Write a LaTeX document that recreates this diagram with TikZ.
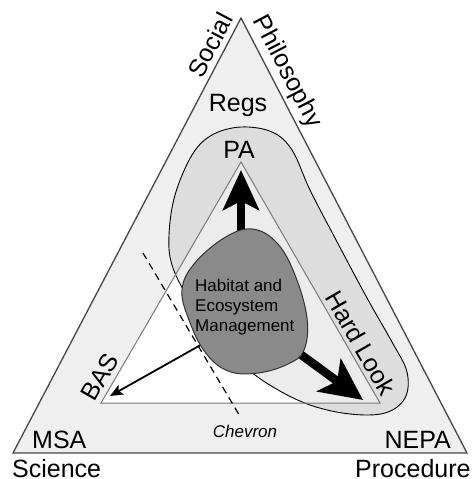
\documentclass[tikz,border=0pt]{standalone}
\usepackage{fontspec}
\setmainfont{Liberation Sans}
\usetikzlibrary{arrows.meta}
\definecolor{outerfill}{HTML}{EFEFEF}
\definecolor{outerline}{HTML}{474747}
\definecolor{innerline}{HTML}{7A7A7A}
\definecolor{darkfill}{HTML}{8A8A8A}
\definecolor{darkline}{HTML}{333333}
\tikzset{
  biglabel/.style={font=\fontsize{25}{30}\selectfont, inner sep=0pt},
  smalllabel/.style={font=\fontsize{17}{20}\selectfont, inner sep=0pt},
  thickarrow/.style={line width=7.5pt, -{Stealth[length=40pt,width=36pt,inset=9pt]}},
  thickerarrow/.style={line width=8.5pt, -{Stealth[length=42pt,width=40pt,inset=10pt]}},
  thinarrow/.style={line width=1.8pt, -{Stealth[length=13pt,width=11pt,inset=3pt]}},
}
\begin{document}
\begin{tikzpicture}[x=1pt,y=-1pt]
\useasboundingbox (0,0) rectangle (473,479);
% outer triangle
\coordinate (O1) at (241,18);
\coordinate (O2) at (13,453);
\coordinate (O3) at (467,453);
\coordinate (I1) at (241,162);
\coordinate (I2) at (101,403);
\coordinate (I3) at (380,403);
\filldraw[fill=outerfill, draw=outerline, line width=1.3pt, line join=miter] (O1) -- (O2) -- (O3) -- cycle;
\fill[white] (I1) -- (I2) -- (I3) -- cycle;
% light blob (PA / Hard Look region)
\filldraw[fill=black, fill opacity=0.075, draw=black, line width=0.9pt]
  plot[smooth cycle, tension=0.6] coordinates {
  (241,127) (272,132) (292,150) (310,190) (335,238) (367,298) (392,342)
  (407,372) (405,398) (385,413) (350,414) (310,405) (273,387) (240,363)
  (212,333) (188,298) (172,265) (169,235) (175,195) (192,155) (212,135)};
\draw[innerline, line width=1pt] (I1) -- (I2) -- (I3) -- cycle;
% dashed Chevron line
\coordinate (D1) at (143,253);
\coordinate (D2) at (241,418);
\draw[black, line width=1.2pt, dash pattern=on 7pt off 5pt] (D1) -- (D2);
% arrows
\coordinate (A1s) at (241,250);
\coordinate (A1e) at (241,170);
\coordinate (A2s) at (285,343);
\coordinate (A2e) at (363,400);
\coordinate (A3s) at (206,342);
\coordinate (A3e) at (110,396);
\draw[thickarrow] (A1s) -- (A1e);
\draw[thickerarrow] (A2s) -- (A2e);
\draw[thinarrow] (A3s) -- (A3e);
% dark blob
\filldraw[fill=darkfill, draw=darkline, line width=1pt]
  plot[smooth cycle, tension=0.65] coordinates {
  (252,229) (277,243) (295,275) (307,318) (304,350) (288,364) (258,373)
  (228,371) (205,352) (189,320) (182,290) (194,264) (224,238)};
% labels
\node[biglabel, rotate=62.3] (social) at (210,45) {Social};
\node[biglabel, rotate=-62.3] (philo) at (287,72) {Philosophy};
\node[biglabel, anchor=base] (regs) at (238,111) {Regs};
\node[biglabel, anchor=base] (pa) at (239,158) {PA};
\node[biglabel, anchor=base west] (msa) at (32,448) {MSA};
\node[biglabel, anchor=base east] (nepa) at (451,448) {NEPA};
\node[biglabel, anchor=base west] (science) at (12,477) {Science};
\node[biglabel, anchor=base west] (proc) at (355,477) {Procedure};
\node[biglabel, rotate=60] (bas) at (100,377) {BAS};
\node[biglabel, rotate=-60] (hard) at (361,343) {Hard Look};
\node[smalllabel, anchor=north west, align=left] (hab) at (195,279)
  {Habitat and\\Ecosystem\\Management};
\node[smalllabel, anchor=base, font=\fontsize{17}{20}\selectfont\itshape] (chev) at (245,437) {Chevron};
\end{tikzpicture}
\end{document}
